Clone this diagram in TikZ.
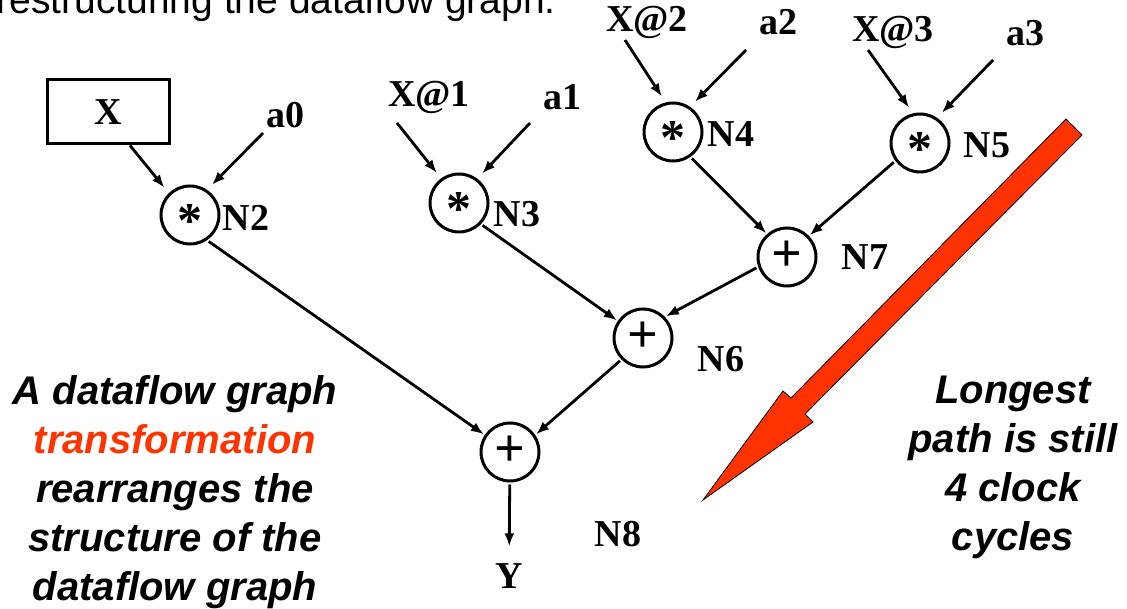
\documentclass[tikz,border=0pt]{standalone}
\usepackage{fontspec}
\setmainfont{Liberation Serif}
\newfontfamily\arialfont{Liberation Sans}
\usetikzlibrary{arrows.meta,calc}
\definecolor{hotred}{HTML}{FF3300}
\newcommand{\lblfont}{\fontsize{38}{40}\selectfont\bfseries}
\newcommand{\notefont}{\arialfont\fontsize{40}{49}\selectfont\bfseries\itshape}
\newcommand{\mulsym}{\fontsize{50}{50}\selectfont\smash{\raisebox{-0.46em}{*}}}
\newcommand{\addsym}{\fontsize{54}{54}\selectfont\smash{\raisebox{-0.27em}{+}}}

\begin{document}
\begin{tikzpicture}[x=1pt, y=-1pt, >={Latex[length=13pt,width=10pt]},
  lbl/.style={font=\lblfont, inner sep=0pt},
  op/.style={circle, draw, line width=3pt, minimum size=58pt, inner sep=0pt, font=\lblfont},
  src/.style={draw, line width=3pt, minimum width=122pt, minimum height=64pt, inner sep=0pt, font=\lblfont},
  edge/.style={->, line width=2.8pt, shorten <=2pt, shorten >=1pt},
  feed/.style={->, line width=2.8pt, shorten >=7pt},
  note/.style={font=\notefont, align=center, inner sep=0pt}
]
\useasboundingbox (0,0) rectangle (1127,609);
\node[anchor=base east, inner sep=0pt, font=\arialfont\fontsize{39}{40}\selectfont] (head) at (556,14) {restructuring the dataflow graph.};

% inputs
\node[src] (xin) at (108,112) {X};
\node[lbl] (a0) at (285,115) {a0};
\node[lbl] (x1) at (429,97) {X@1};
\node[lbl] (a1) at (562,97) {a1};
\node[lbl] (x2) at (647,22) {X@2};
\node[lbl] (a2) at (778,22) {a2};
\node[lbl] (x3) at (893,32) {X@3};
\node[lbl] (a3) at (1025,33) {a3};

% operators
\node[op] (n2) at (190,215) {\mulsym};
\node[op] (n3) at (459,203) {\mulsym};
\node[op] (n4) at (673,132) {\mulsym};
\node[op] (n5) at (920,143) {\mulsym};
\node[op] (n7) at (787,257) {\addsym};
\node[op] (n6) at (643,338) {\addsym};
\node[op] (n8) at (510,452) {\addsym};
\node[lbl] (yout) at (509,576) {Y};

\node[lbl] (l2) at (246,218) {N2};
\node[lbl] (l3) at (517,214) {N3};
\node[lbl] (l4) at (731,134) {N4};
\node[lbl] (l5) at (987,145) {N5};
\node[lbl] (l7) at (865,257) {N7};
\node[lbl] (l6) at (721,359) {N6};
\node[lbl] (l8) at (618,534) {N8};

\draw[feed] ($(xin.south)+(22,0)$) -- (n2.134);
\draw[feed] ($(a0)+(-22,18)$) -- (n2.56);
\draw[feed] ($(x1)+(-32,26)$) -- (n3.126);
\draw[feed] ($(a1)+(-32,26)$) -- (n3.53);
\draw[feed] ($(x2)+(-22,18)$) -- (n4.104);
\draw[feed] ($(a2)+(-32,28)$) -- (n4.56);
\draw[feed] ($(x3)+(-25,18)$) -- (n5.103);
\draw[feed] ($(a3)+(-32,27)$) -- (n5.56);

\draw[edge] (n2.-56) -- (n8.146);
\draw[edge] (n3.-44) -- (n6.146);
\draw[edge] (n4.-55) -- (n7.131);
\draw[edge] (n5.-144) -- (n7.44);
\draw[edge] (n7.199) -- (n6.44);
\draw[edge] (n6.-135) -- (n8.34);
\draw[edge, shorten >=17pt] (n8) -- (yout);

% big arrow
\filldraw[fill=hotred, draw=black, line width=0.8pt]
  (1066,119) -- (791,398) -- (783,391) -- (703,500) -- (813,422) -- (805,414) -- (1082,135) -- cycle;

\node[note] (left) at (175,492) {A dataflow graph\\{\color{hotred}transformation}\\rearranges the\\structure of the\\dataflow graph};
\node[note] (right) at (1013,467) {Longest\\path is still\\4 clock\\cycles};
\end{tikzpicture}
\end{document}
